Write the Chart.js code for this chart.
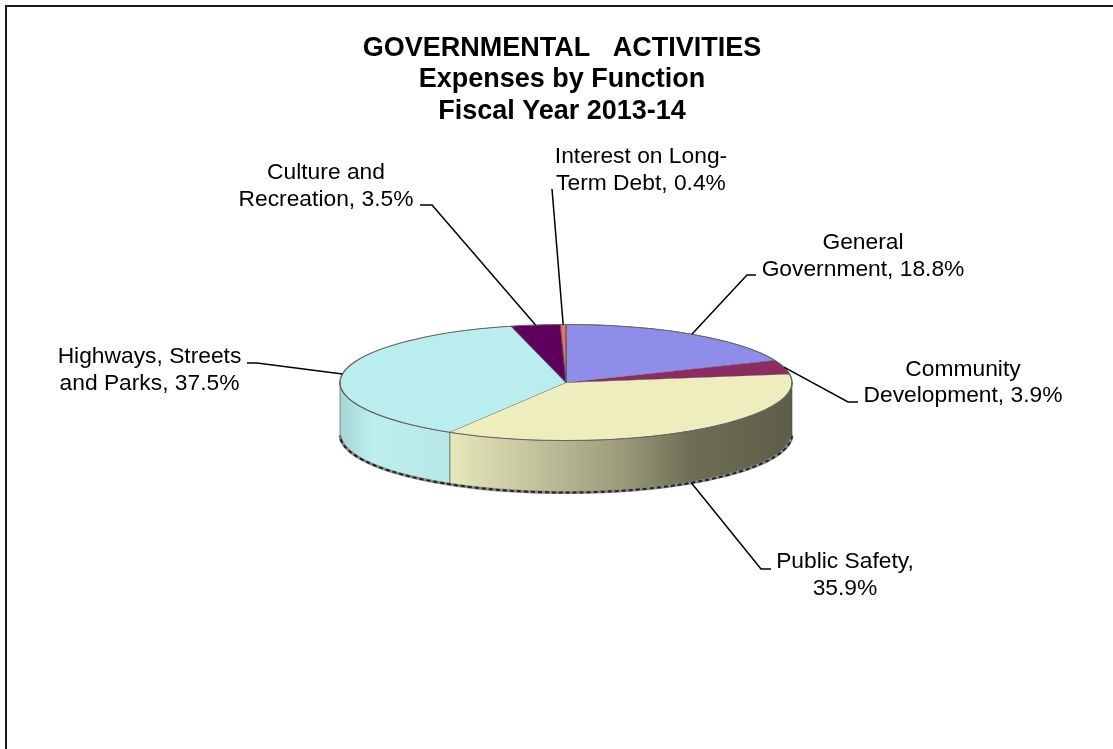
<!DOCTYPE html>
<html>
<head>
<meta charset="utf-8">
<title>Governmental Activities</title>
<script src="https://cdn.jsdelivr.net/npm/chart.js@4/dist/chart.umd.min.js"></script>
<style>
    html, body { margin: 0; padding: 0; background: #fff; overflow: hidden; }
    canvas { display: block; }
</style>
</head>
<body>
<canvas id="pie" width="1113" height="749"></canvas>
<script>
/* --- data --- */
const categories = [
    "General Government",
    "Community Development",
    "Public Safety",
    "Highways, Streets and Parks",
    "Culture and Recreation",
    "Interest on Long-Term Debt"
];
const shares = [18.8, 3.9, 35.9, 37.5, 3.5, 0.4];
const titleLines = ["GOVERNMENTAL   ACTIVITIES", "Expenses by Function", "Fiscal Year 2013-14"];
const labelFirstLines = ["General", "Community", "Public Safety,", "Highways, Streets", "Culture and", "Interest on Long-"];
const labelSecondLines = ["Government,", "Development,", "", "and Parks,", "Recreation,", "Term Debt,"];

/* --- colours --- */
const sliceColors = ["#8E8EEA", "#8C2C60", "#EDEDBE", "#BAEDED", "#5F005F", "#F0705F"];
const wallStops = {
    2: [[448, "#E9E9BC"], [520, "#C8C8A2"], [620, "#9C9C7C"], [690, "#6E6E56"], [792, "#5E5E48"]],
    3: [[340, "#A6D6D6"], [372, "#BCEEEE"], [448, "#B6E8E8"]]
};

/* --- layout of the tilted pie and its callouts --- */
const PIE = { cx: 566, cy: 382.5, rx: 226, ry: 58, depth: 52 };
const LABEL_FONT = '22.8px "Liberation Sans", Arial, sans-serif';
const LABEL_SPOTS = [
    { x: 863, y1: 249, y2: 275.7, elbow: [[747, 275], [756, 275]] },
    { x: 963, y1: 375.7, y2: 402.3, elbow: [[848, 402], [858, 402]] },
    { x: 845, y1: 568.3, y2: 595, elbow: [[761, 569], [771, 569]] },
    { x: 149.5, y1: 362.7, y2: 390, elbow: [[257, 363], [247, 363]] },
    { x: 326, y1: 179, y2: 205.7, elbow: [[432, 205], [420, 205]] },
    { x: 641, y1: 163.3, y2: 190, elbow: [[552, 189]] }
];

function wallFill(ctx, index) {
    const stops = wallStops[index];
    if (!stops) return sliceColors[index];
    const from = stops[0][0], to = stops[stops.length - 1][0];
    const grad = ctx.createLinearGradient(from, 0, to, 0);
    stops.forEach(s => grad.addColorStop((s[0] - from) / (to - from), s[1]));
    return grad;
}

/* side wall of the disc, front half only */
function drawWalls(chart) {
    const ctx = chart.ctx;
    const { cx, cy, rx, ry, depth } = PIE;
    chart.getDatasetMeta(0).data.forEach((arc, i) => {
        const a = Math.max(arc.startAngle, 0);
        const b = Math.min(arc.endAngle, Math.PI);
        if (b <= a) return;
        ctx.beginPath();
        ctx.ellipse(cx, cy, rx, ry, 0, a, b);
        ctx.ellipse(cx, cy + depth, rx, ry, 0, b, a, true);
        ctx.closePath();
        ctx.fillStyle = wallFill(ctx, i);
        ctx.fill();
        ctx.strokeStyle = "rgba(70,80,70,0.75)";
        ctx.lineWidth = 0.8;
        ctx.stroke();
    });

    // rough lower rim
    ctx.beginPath();
    ctx.ellipse(cx, cy + depth, rx, ry, 0, 0.02, Math.PI - 0.02);
    ctx.strokeStyle = "#8a8a8a";
    ctx.lineWidth = 3;
    ctx.stroke();
    ctx.setLineDash([4, 3]);
    ctx.strokeStyle = "#222";
    ctx.lineWidth = 2;
    ctx.stroke();
    ctx.setLineDash([]);
}

const tiltedPie = {
    id: "tiltedPie",
    beforeDraw(chart) {
        // page frame, only the top and left sides fall inside the canvas
        const ctx = chart.ctx;
        ctx.save();
        ctx.beginPath();
        ctx.moveTo(6, 749);
        ctx.lineTo(6, 6);
        ctx.lineTo(1113, 6);
        ctx.strokeStyle = "#1a1a1a";
        ctx.lineWidth = 2;
        ctx.stroke();
        ctx.restore();
    },
    beforeDatasetsDraw(chart) {
        const ctx = chart.ctx;
        const arc = chart.getDatasetMeta(0).data[0];
        drawWalls(chart);
        ctx.save();
        ctx.translate(PIE.cx, PIE.cy);
        ctx.scale(PIE.rx / arc.outerRadius, PIE.ry / arc.outerRadius);
        ctx.translate(-arc.x, -arc.y);
    },
    afterDatasetsDraw(chart) {
        const ctx = chart.ctx;
        ctx.restore();
        ctx.save();

        // darker outline round the top face
        ctx.beginPath();
        ctx.ellipse(PIE.cx, PIE.cy, PIE.rx, PIE.ry, 0, 0, Math.PI * 2);
        ctx.strokeStyle = "#666";
        ctx.lineWidth = 1.2;
        ctx.stroke();

        // leader lines and callouts
        chart.getDatasetMeta(0).data.forEach((arc, i) => {
            const mid = (arc.startAngle + arc.endAngle) / 2;
            const spot = LABEL_SPOTS[i];
            const front = Math.sin(mid) > 0;
            ctx.beginPath();
            ctx.moveTo(PIE.cx + PIE.rx * Math.cos(mid),
                       PIE.cy + PIE.ry * Math.sin(mid) + (front ? PIE.depth : 0));
            spot.elbow.forEach(p => ctx.lineTo(p[0], p[1]));
            ctx.strokeStyle = "#000";
            ctx.lineWidth = 1.5;
            ctx.stroke();

            ctx.font = LABEL_FONT;
            ctx.fillStyle = "#000";
            ctx.textAlign = "center";
            ctx.textBaseline = "alphabetic";
            ctx.fillText(labelFirstLines[i], spot.x, spot.y1);
            const second = (labelSecondLines[i] + " " + shares[i].toFixed(1) + "%").trim();
            ctx.fillText(second, spot.x, spot.y2);
        });
        ctx.restore();
    }
};

new Chart(document.getElementById("pie"), {
    type: "pie",
    data: {
        labels: categories,
        datasets: [{
            data: shares,
            backgroundColor: sliceColors,
            borderColor: "#555",
            borderWidth: 1,
            clip: false
        }]
    },
    options: {
        responsive: false,
        animation: false,
        layout: { padding: { left: 336, right: 325, top: 28.5, bottom: 0 } },
        plugins: {
            legend: { display: false },
            tooltip: { enabled: false },
            title: {
                display: true,
                text: titleLines,
                color: "#000",
                font: { family: '"Liberation Sans", Arial, sans-serif', size: 27, weight: "bold", lineHeight: 1.17 },
                padding: { top: 4, bottom: 4 }
            }
        }
    },
    plugins: [tiltedPie]
});
</script>
</body>
</html>
